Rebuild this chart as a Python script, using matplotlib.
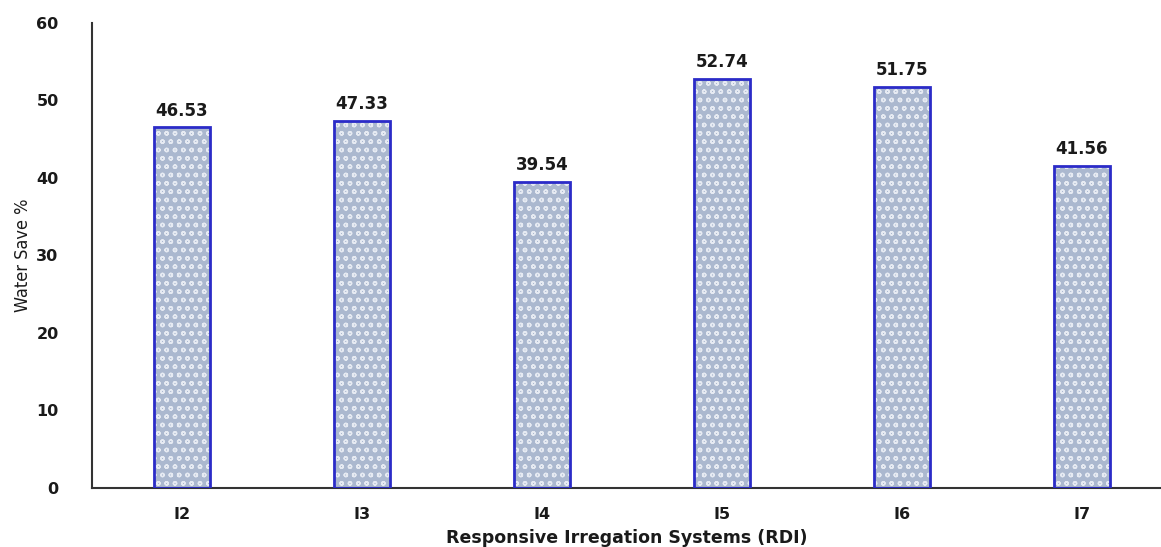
import numpy as np
import matplotlib.pyplot as plt

systems = ["I2", "I3", "I4", "I5", "I6", "I7"]
water_save = [46.53, 47.33, 39.54, 52.74, 51.75, 41.56]

plt.rcParams['font.family'] = ['DejaVu Sans']

fig = plt.figure(figsize=(11.61, 5.47), dpi=100)
ax = fig.add_axes([0.0792, 0.108, 0.9208, 0.85])

x = np.arange(len(systems))
# hatched fill first, then the blue outline on top
ax.bar(x, water_save, width=0.31, color='#abb8cf', edgecolor='#e6eaf2',
       hatch='oo', linewidth=0, zorder=2)
ax.bar(x, water_save, width=0.31, fill=False, edgecolor='#2b2bc8',
       linewidth=2, zorder=3)

for xi, val in zip(x, water_save):
    ax.text(xi, val + 1.0, f"{val:.2f}", ha='center', va='bottom',
            fontsize=12, fontweight='bold', color='#1a1a1a')

ax.set_xlim(-0.5, 5.44)
ax.set_ylim(0, 60)
ax.set_yticks(range(0, 61, 10))
ax.set_xticks(x)
ax.set_xticklabels(systems)
ax.tick_params(axis='both', length=0, labelsize=11.5, colors='#1a1a1a')
ax.tick_params(axis='y', pad=24)
ax.tick_params(axis='x', pad=14)
for lab in ax.get_xticklabels() + ax.get_yticklabels():
    lab.set_fontweight('bold')

ax.spines['top'].set_visible(False)
ax.spines['right'].set_visible(False)
ax.spines['left'].set_color('#333333')
ax.spines['bottom'].set_color('#333333')
ax.spines['left'].set_linewidth(1.5)
ax.spines['bottom'].set_linewidth(1.5)

ax.set_xlabel("Responsive Irregation Systems (RDI)", fontsize=12.5,
              fontweight='bold', labelpad=5, color='#1a1a1a')
ax.set_ylabel("Water Save %", fontsize=13, labelpad=3,
              family=['Liberation Sans Narrow', 'DejaVu Sans'],
              fontstretch='condensed', color='#1a1a1a')

fig.savefig("out.png", dpi=100)
